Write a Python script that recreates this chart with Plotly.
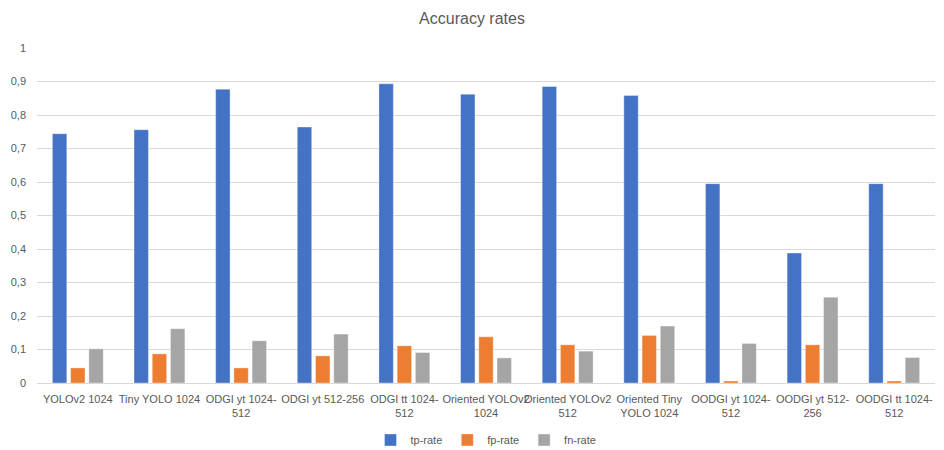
import plotly.graph_objects as go

categories = [
    "YOLOv2 1024", "Tiny YOLO 1024", "ODGI yt 1024-<br>512", "ODGI yt 512-256",
    "ODGI tt 1024-<br>512", "Oriented YOLOv2<br>1024", "Oriented YOLOv2<br>512",
    "Oriented Tiny<br>YOLO 1024", "OODGI yt 1024-<br>512", "OODGI yt 512-<br>256",
    "OODGI tt 1024-<br>512",
]
tp_rate = [0.744, 0.756, 0.877, 0.764, 0.893, 0.862, 0.885, 0.858, 0.595, 0.388, 0.595]
fp_rate = [0.045, 0.087, 0.045, 0.081, 0.111, 0.138, 0.114, 0.142, 0.006, 0.114, 0.006]
fn_rate = [0.102, 0.162, 0.126, 0.146, 0.091, 0.075, 0.095, 0.170, 0.118, 0.256, 0.076]

y_ticks = [0, 0.1, 0.2, 0.3, 0.4, 0.5, 0.6, 0.7, 0.8, 0.9, 1]
y_tick_labels = ["0", "0,1", "0,2", "0,3", "0,4", "0,5", "0,6", "0,7", "0,8", "0,9", "1"]

series = [("tp-rate", tp_rate, "#4472C4"), ("fp-rate", fp_rate, "#ED7D31"), ("fn-rate", fn_rate, "#A5A5A5")]

FONT = "Liberation Sans Narrow, Arial Narrow, Liberation Sans, Arial, sans-serif"

fig = go.Figure()
for name, vals, col in series:
    fig.add_trace(go.Bar(
        x=categories, y=vals, name=name,
        marker=dict(color=col, line=dict(color="rgba(255,255,255,0.6)", width=0.6)),
    ))

fig.update_layout(
    width=944, height=450,
    margin=dict(l=37, r=9, t=48, b=67, autoexpand=False),
    paper_bgcolor="white", plot_bgcolor="white",
    barmode="group", bargap=0.33, bargroupgap=0.21,
    font=dict(family=FONT, size=11, color="#595959"),
    title=dict(text="Accuracy rates", x=0.5, xanchor="center", y=0.96, yanchor="middle",
               font=dict(family=FONT, size=16, color="#595959")),
    legend=dict(orientation="h", x=0.5, xanchor="center", y=-0.17, yanchor="middle",
                font=dict(size=11, color="#595959"), itemwidth=30, traceorder="normal"),
    showlegend=True,
)
fig.update_xaxes(showgrid=False, showline=False, ticks="", tickangle=0, automargin=False,
                 ticklabelstandoff=8, tickfont=dict(size=11, color="#595959"))
fig.update_yaxes(range=[0, 1], tickvals=y_ticks, ticktext=y_tick_labels, automargin=False,
                 showgrid=True, gridcolor="#D9D9D9", gridwidth=1,
                 zeroline=True, zerolinecolor="#D9D9D9", zerolinewidth=1,
                 showline=False, ticks="", ticklabelstandoff=10,
                 tickfont=dict(size=11, color="#595959"))

fig.write_html("out.html")
